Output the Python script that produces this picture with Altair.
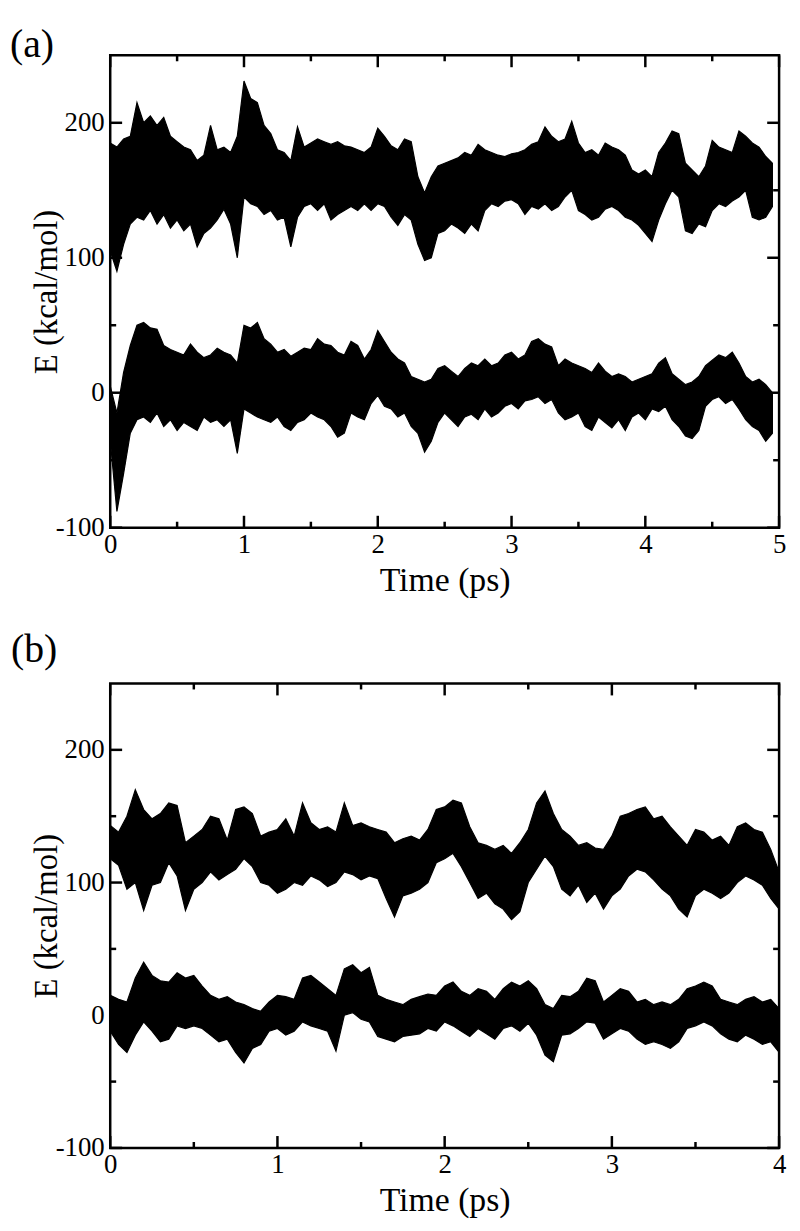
import altair as alt
import pandas as pd

STEP = 0.05  # sampling interval (ps) of the envelope readings

# ---------- panel (a): upper series, envelope (max / min) ----------
A_UP_HI = [185, 182, 188, 190, 215, 200, 205, 198, 204, 190,
           186, 182, 180, 172, 176, 198, 180, 182, 178, 190,
           231, 218, 215, 198, 192, 180, 178, 172, 197, 182,
           185, 188, 186, 184, 186, 183, 182, 180, 178, 182,
           196, 190, 183, 180, 188, 186, 160, 148, 160, 168,
           170, 172, 174, 178, 176, 184, 180, 178, 176, 175,
           177, 178, 180, 184, 186, 197, 190, 186, 188, 201,
           185, 178, 180, 176, 185, 182, 180, 176, 165, 162,
           165, 160, 178, 185, 194, 192, 170, 165, 160, 168,
           187, 182, 180, 178, 194, 190, 185, 182, 175, 170]
A_UP_LO = [105, 90, 110, 125, 130, 128, 135, 125, 132, 122,
           128, 120, 125, 108, 118, 122, 128, 136, 125, 100,
           145, 140, 138, 132, 135, 128, 130, 108, 130, 138,
           140, 135, 140, 128, 132, 135, 138, 135, 140, 135,
           140, 138, 130, 124, 132, 128, 110, 98, 100, 118,
           120, 125, 122, 118, 125, 120, 135, 140, 138, 142,
           143, 140, 132, 138, 136, 140, 135, 138, 145, 150,
           135, 132, 128, 130, 136, 138, 135, 130, 128, 124,
           118, 112, 128, 140, 150, 145, 120, 118, 125, 123,
           135, 140, 138, 142, 145, 150, 130, 128, 130, 138]

# ---------- panel (a): lower series ----------
A_DN_HI = [5, -15, 15, 35, 50, 52, 48, 47, 35, 32,
           30, 28, 36, 30, 26, 28, 33, 30, 28, 22,
           50, 48, 52, 40, 36, 30, 32, 27, 30, 33,
           32, 40, 36, 35, 30, 28, 38, 35, 25, 32,
           46, 38, 30, 25, 22, 12, 10, 8, 10, 18,
           20, 16, 12, 18, 22, 20, 25, 20, 22, 28,
           30, 25, 28, 38, 40, 36, 34, 20, 25, 22,
           20, 18, 15, 22, 16, 12, 14, 12, 8, 10,
           12, 14, 22, 26, 14, 10, 6, 8, 12, 20,
           24, 28, 26, 30, 22, 12, 8, 10, 6, 0]
A_DN_LO = [-35, -88, -60, -30, -20, -18, -22, -15, -25, -20,
           -28, -22, -25, -28, -18, -22, -20, -25, -20, -45,
           -12, -15, -18, -20, -22, -18, -25, -28, -22, -20,
           -15, -18, -20, -25, -33, -30, -15, -18, -20, -8,
           -2, -10, -12, -18, -15, -25, -30, -44, -36, -22,
           -15, -20, -25, -18, -16, -20, -12, -18, -15, -10,
           -8, -12, -6, -5, -3, -8, -5, -15, -20, -18,
           -15, -25, -28, -18, -22, -26, -20, -28, -18, -15,
           -20, -12, -14, -10, -20, -25, -32, -34, -28, -10,
           -5, -3, -8, -5, -12, -20, -25, -28, -36, -30]

# ---------- panel (b): upper series ----------
B_UP_HI = [143, 138, 150, 170, 155, 148, 152, 160, 158, 130,
           135, 140, 150, 148, 132, 155, 157, 152, 135, 138,
           140, 148, 135, 160, 145, 140, 142, 138, 160, 143,
           145, 142, 140, 138, 130, 133, 135, 132, 140, 155,
           157, 162, 160, 142, 130, 128, 125, 128, 122, 130,
           140, 160, 169, 152, 140, 135, 128, 130, 126, 125,
           135, 150, 152, 155, 157, 148, 150, 142, 135, 128,
           140, 138, 132, 135, 128, 142, 145, 140, 138, 125,
           108]
B_UP_LO = [118, 113, 95, 100, 79, 98, 100, 115, 105, 79,
           95, 100, 108, 102, 106, 110, 118, 112, 100, 98,
           92, 95, 100, 98, 105, 102, 97, 100, 108, 106,
           102, 105, 103, 88, 74, 90, 92, 95, 100, 115,
           118, 122, 112, 100, 88, 92, 84, 80, 72, 78,
           100, 110, 120, 112, 95, 90, 98, 85, 92, 80,
           90, 95, 105, 110, 108, 102, 95, 90, 80, 74,
           90, 95, 92, 88, 92, 100, 105, 102, 98, 88,
           80]

# ---------- panel (b): lower series ----------
B_DN_HI = [15, 12, 10, 28, 40, 30, 26, 25, 32, 28,
           30, 22, 15, 12, 14, 10, 8, 5, 3, 10,
           15, 14, 12, 28, 30, 25, 20, 15, 35, 38,
           32, 36, 15, 12, 10, 8, 12, 14, 16, 15,
           22, 25, 18, 15, 20, 18, 12, 20, 25, 22,
           26, 20, 8, 5, 15, 14, 18, 28, 26, 10,
           15, 20, 18, 10, 12, 8, 10, 8, 12, 20,
           22, 25, 22, 12, 10, 8, 12, 14, 10, 12,
           5]
B_DN_LO = [-12, -22, -28, -15, -5, -12, -20, -18, -8, -10,
           -8, -10, -15, -20, -18, -28, -36, -25, -22, -12,
           -10, -15, -12, -5, -8, -10, -12, -27, 0, 2,
           -3, -5, -16, -18, -20, -16, -15, -14, -10, -12,
           -5, -8, -12, -16, -10, -14, -18, -10, -8, -12,
           -6, -15, -30, -35, -15, -14, -10, -5, -6, -18,
           -14, -10, -12, -18, -22, -20, -22, -25, -20, -10,
           -8, -5, -8, -14, -18, -20, -15, -18, -22, -20,
           -28]

Y_MAJOR = [-100, 0, 100, 200]
Y_MINOR = [-50, 50, 150]
A_X_MAJOR = [0, 1, 2, 3, 4, 5]
A_X_MINOR = [0.5, 1.5, 2.5, 3.5, 4.5]
B_X_MAJOR = [0, 1, 2, 3, 4]
B_X_MINOR = [0.5, 1.5, 2.5, 3.5]

FONT = "Liberation Serif"
LABEL_EXPR = "'' + datum.value"   # plain hyphen for negatives, as in the figure


def series_df(hi, lo, name):
    t = [round(i * STEP, 3) for i in range(len(hi))]
    return pd.DataFrame({"t": t, "hi": hi, "lo": lo, "series": name})


def panel(dfs, xmax, xmaj, xmin, W, H, label, title_dx, title_offset):
    xs = alt.Scale(domain=[0, xmax], nice=False, zero=False)
    ys = alt.Scale(domain=[-100, 250], nice=False, zero=False)
    xaxis = alt.Axis(values=xmaj, labelExpr=LABEL_EXPR, title="Time (ps)", domain=False,
                     ticks=False, grid=False, labelFont=FONT, labelFontSize=27,
                     labelColor="black", labelPadding=4, labelFlush=False,
                     titleFont=FONT, titleFontSize=34, titleFontWeight="normal",
                     titleColor="black", titlePadding=6)
    yaxis = alt.Axis(values=Y_MAJOR, labelExpr=LABEL_EXPR, title="E (kcal/mol)", domain=False,
                     ticks=False, grid=False, labelFont=FONT, labelFontSize=27,
                     labelColor="black", labelPadding=6, labelFlush=False,
                     titleFont=FONT, titleFontSize=33, titleFontWeight="normal",
                     titleColor="black", titleX=-47, titleY=H / 2,
                     titleBaseline="bottom", titleAngle=270)
    data = pd.concat(dfs, ignore_index=True)
    band = alt.Chart(data).mark_area(
        color="black", interpolate="linear", stroke="black", strokeWidth=1.2,
        opacity=1, clip=True
    ).encode(
        x=alt.X("t:Q", scale=xs, axis=xaxis),
        y=alt.Y("lo:Q", scale=ys, axis=yaxis),
        y2="hi:Q",
        detail="series:N",
    )
    layers = [band]

    def xticks(vals, L):
        d = pd.DataFrame({"v": vals})
        bottom = alt.Chart(d).mark_rule(color="black", strokeWidth=2.5).encode(
            x=alt.X("v:Q", scale=xs, axis=xaxis), y=alt.value(H), y2=alt.value(H - L))
        top = alt.Chart(d).mark_rule(color="black", strokeWidth=2.5).encode(
            x=alt.X("v:Q", scale=xs, axis=xaxis), y=alt.value(0), y2=alt.value(L))
        return [bottom, top]

    def yticks(vals, L):
        d = pd.DataFrame({"v": vals})
        left = alt.Chart(d).mark_rule(color="black", strokeWidth=2.5).encode(
            y=alt.Y("v:Q", scale=ys, axis=yaxis), x=alt.value(0), x2=alt.value(L))
        right = alt.Chart(d).mark_rule(color="black", strokeWidth=2.5).encode(
            y=alt.Y("v:Q", scale=ys, axis=yaxis), x=alt.value(W), x2=alt.value(W - L))
        return [left, right]

    layers += xticks(xmaj, 12) + xticks(xmin, 6) + yticks(Y_MAJOR, 12) + yticks(Y_MINOR, 6)
    return alt.layer(*layers).properties(
        width=W, height=H,
        title=alt.TitleParams(text=label, anchor="start", frame="group", dx=title_dx,
                              offset=title_offset, fontSize=40, font=FONT,
                              fontWeight="normal", color="black", baseline="alphabetic"),
    )


pa = panel([series_df(A_UP_HI, A_UP_LO, "upper"), series_df(A_DN_HI, A_DN_LO, "lower")],
           5, A_X_MAJOR, A_X_MINOR, 674, 476, "(a)", -101, -43)
pb = panel([series_df(B_UP_HI, B_UP_LO, "upper"), series_df(B_DN_HI, B_DN_LO, "lower")],
           4, B_X_MAJOR, B_X_MINOR, 674, 468, "(b)", -100, -20)

chart = alt.vconcat(pa, pb, spacing=30).configure(
    padding={"left": 0, "top": 11, "right": 5, "bottom": 5}
).configure_view(stroke="black", strokeWidth=2.5)

chart.save("out.html", embed_options={"renderer": "svg", "actions": False})
